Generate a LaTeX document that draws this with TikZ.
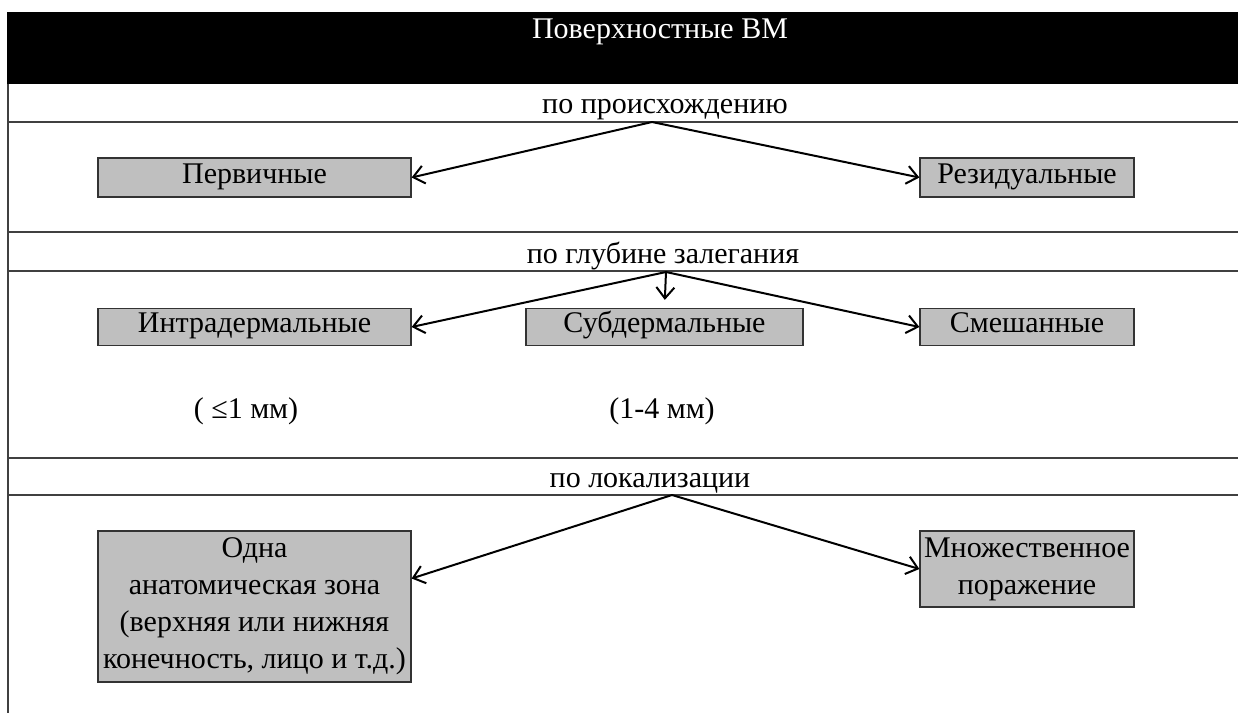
\documentclass[tikz,border=0pt]{standalone}
\usepackage{fontspec}
\setmainfont{Liberation Serif}
\usetikzlibrary{arrows.meta}
\tikzset{
  catbox/.style={draw=black!80, fill=black!25, line width=0.6pt, inner sep=1pt, align=center},
  linebox/.style={catbox, text height=1.6ex, text depth=.4ex},
  rule/.style={draw=black!75, line width=0.75pt},
  link/.style={->, line width=1pt},
}
\begin{document}
\begin{tikzpicture}[x=0.5pt, y=-0.5pt, font=\fontsize{15}{18.5}\selectfont,
    >={Straight Barb[length=5.5pt,width=9pt]}]
    \useasboundingbox (0,0) rectangle (1238,713);
    % header band
    \fill (7,12) rectangle (1238,84);
    \node[text=white, anchor=base] (hd) at (660,38) {Поверхностные ВМ};
    % frame
    \draw[rule] (8,84) -- (8,713);
    \foreach \y in {122,232,271,458,495}
        \draw[rule] (8,\y) -- (1238,\y);
    % section labels
    \node[anchor=base] (t1) at (665,113) {по происхождению};
    \node[anchor=base] (t2) at (663,263) {по глубине залегания};
    \node[anchor=base] (t3) at (650,487) {по локализации};
    \coordinate (a1) at (652,122);
    \coordinate (a2) at (666,272);
    \coordinate (a3) at (672,495);
    % origin
    \node[linebox, minimum width=156.5pt, minimum height=19.5pt] (p1) at (254.5,177.5) {Первичные};
    \node[linebox, minimum width=107pt, minimum height=19.5pt] (r1) at (1027,177.5) {Резидуальные};
    \draw[link] (a1) -- (p1.east);
    \draw[link] (a1) -- (r1.west);
    % depth
    \node[linebox, minimum width=156.5pt, minimum height=18.5pt] (i2) at (254.5,327) {Интрадермальные};
    \node[linebox, minimum width=138.5pt, minimum height=18.5pt] (s2) at (664.5,327) {Субдермальные};
    \node[linebox, minimum width=107pt, minimum height=18.5pt] (m2) at (1027,327) {Смешанные};
    \node[anchor=base] (i2d) at (246,418) {( ≤1 мм)};
    \node[anchor=base] (s2d) at (662,418) {(1-4 мм)};
    \draw[link] (a2) -- (i2.east);
    \draw[link, shorten >=4pt] (a2) -- (s2.north);
    \draw[link] (a2) -- (m2.west);
    % localisation
    \node[catbox, minimum width=156.5pt, minimum height=75.5pt] (o3) at (254.5,606.5)
        {Одна\\анатомическая зона\\(верхняя или нижняя\\конечность, лицо и т.д.)};
    \node[catbox, minimum width=107pt, minimum height=38pt] (m3) at (1027,569)
        {Множественное\\поражение};
    \draw[link] (a3) -- ([yshift=14pt]o3.east);
    \draw[link] (a3) -- (m3.west);
\end{tikzpicture}
\end{document}
